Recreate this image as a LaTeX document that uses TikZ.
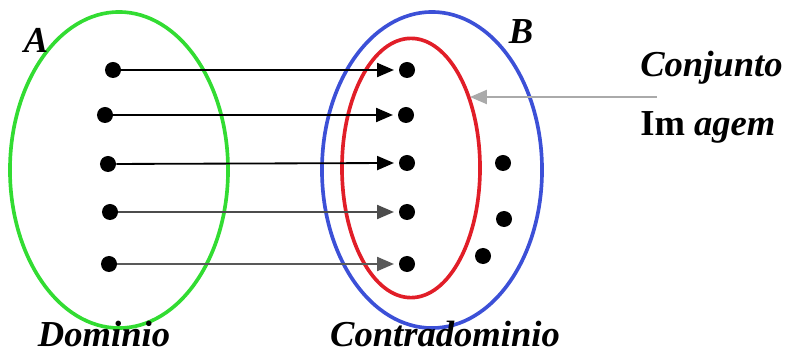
\documentclass[tikz,border=0pt]{standalone}
\usepackage{fontspec}
\setmainfont{Liberation Serif}
\usetikzlibrary{shapes.geometric, arrows.meta, positioning}
\definecolor{setgreen}{RGB}{50,220,50}
\definecolor{setblue}{RGB}{60,80,215}
\definecolor{setred}{RGB}{225,30,40}
\definecolor{setgray}{RGB}{170,170,170}
\tikzset{
  %% ---- sets ----
  setring/.style = {ellipse, draw=#1, line width=2.6pt,
                    inner sep=0pt},
  elem/.style    = {circle, fill=black, inner sep=0pt,
                    minimum size=0.4cm},
  setname/.style = {font=\fontsize{26}{30}\selectfont\bfseries\itshape,
                    inner sep=0pt},
  %% ---- arrows ----
  maparrow/.style = {-{Triangle[length=12pt, width=10pt]},
                     line width=1.3pt, color=#1},
  maparrow/.default = black,
}

\begin{document}
\begin{tikzpicture}[x=0.025cm, y=-0.025cm]
  \useasboundingbox (0,0) rectangle (795,353);

  %% sets
  \node[setring=setgreen, minimum width=5.45cm, minimum height=7.9cm] (A) at (119,170) {};
  \node[setring=setblue, minimum width=5.5cm, minimum height=7.9cm] (B) at (432,170) {};
  \node[setring=setred, minimum width=3.45cm, minimum height=6.48cm] (img) at (411,168) {};

  %% elements
  \node[elem] (a1) at (113,70)  {};
  \node[elem] (a2) at (105,115) {};
  \node[elem] (a3) at (108,164) {};
  \node[elem] (a4) at (110,212) {};
  \node[elem] (a5) at (109,264) {};
  \node[elem] (b1) at (407,70)  {};
  \node[elem] (b2) at (406,115) {};
  \node[elem] (b3) at (407,163) {};
  \node[elem] (b4) at (407,212) {};
  \node[elem] (b5) at (407,264) {};
  \node[elem] (c1) at (503,163) {};
  \node[elem] (c2) at (504,219) {};
  \node[elem] (c3) at (483,256) {};

  %% mapping
  \draw[maparrow] (a1) -- ([xshift=-0.12cm]b1.west);
  \draw[maparrow] (a2) -- ([xshift=-0.12cm]b2.west);
  \draw[maparrow] (a3) -- ([xshift=-0.12cm]b3.west);
  \draw[maparrow=black!70] (a4) -- ([xshift=-0.12cm]b4.west);
  \draw[maparrow=black!65] (a5) -- ([xshift=-0.12cm]b5.west);

  %% labels
  \node[setname] (lA) at (36,40) {A};
  \node[setname] (lB) at (521,32) {B};
  \node[setname, anchor=base] (dom) at (104,346) {Dominio};
  \node[setname, anchor=base] (cdom) at (445,346) {Contradominio};
  \node[setname, anchor=base west] (cj) at (640,77) {Conjunto};
  \node[setname, anchor=base west] (im) at (640,136) {{\upshape Im} agem};

  \coordinate (pin) at (657,97);
  \coordinate (tip) at (470,97);
  \draw[maparrow=setgray] (pin) -- (tip);
\end{tikzpicture}
\end{document}
